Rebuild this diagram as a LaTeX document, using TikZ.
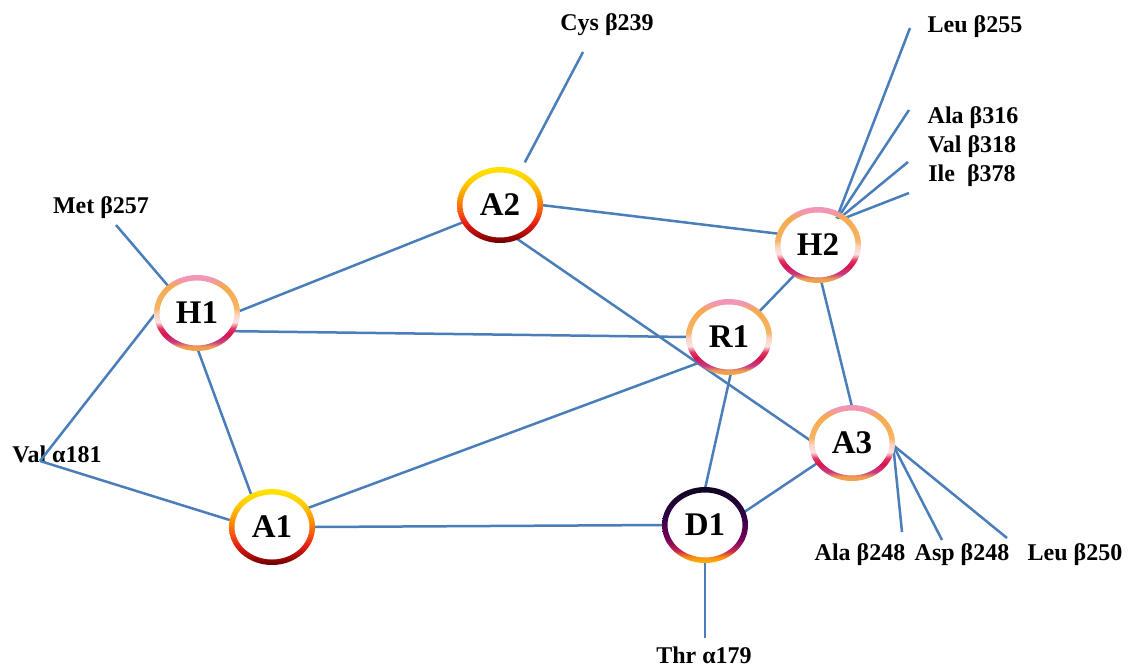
\documentclass[tikz,border=0pt]{standalone}
\usepackage{fontspec}
\setmainfont{Liberation Serif}
\usetikzlibrary{shapes.geometric}
\definecolor{edge}{RGB}{74,126,187}
% A-type ring colours
\definecolor{aA}{RGB}{105,0,0}
\definecolor{aB}{RGB}{170,10,10}
\definecolor{aC}{RGB}{232,30,20}
\definecolor{aD}{RGB}{250,90,15}
\definecolor{aE}{RGB}{255,150,0}
\definecolor{aF}{RGB}{255,205,0}
\definecolor{aG}{RGB}{255,228,0}
% D-type ring colours
\definecolor{dA}{RGB}{255,185,0}
\definecolor{dB}{RGB}{250,140,20}
\definecolor{dC}{RGB}{200,40,80}
\definecolor{dD}{RGB}{120,0,90}
\definecolor{dE}{RGB}{50,0,70}
\definecolor{dF}{RGB}{15,5,35}
% H-type ring colours
\definecolor{hA}{RGB}{242,168,70}
\definecolor{hB}{RGB}{238,155,85}
\definecolor{hC}{RGB}{200,60,130}
\definecolor{hD}{RGB}{215,20,80}
\definecolor{hE}{RGB}{228,50,95}
\definecolor{hF}{RGB}{250,228,225}
\definecolor{hG}{RGB}{250,212,195}
\definecolor{hH}{RGB}{247,180,100}
\definecolor{hI}{RGB}{245,170,80}
\definecolor{hJ}{RGB}{242,150,175}
\definecolor{hK}{RGB}{240,150,192}
\pgfdeclareverticalshading{ringA}{100bp}{color(0bp)=(aA); color(25bp)=(aA); color(31bp)=(aB); color(38bp)=(aC); color(46bp)=(aD); color(55bp)=(aE); color(65bp)=(aF); color(75bp)=(aG); color(100bp)=(aG)}
\pgfdeclareverticalshading{ringD}{100bp}{color(0bp)=(dA); color(25bp)=(dA); color(29bp)=(dB); color(33bp)=(dC); color(40bp)=(dD); color(55bp)=(dE); color(75bp)=(dF); color(100bp)=(dF)}
\pgfdeclareverticalshading{ringH}{100bp}{color(0bp)=(hA); color(25bp)=(hA); color(28bp)=(hB); color(31bp)=(hC); color(36bp)=(hD); color(40bp)=(hE); color(44bp)=(hF); color(49bp)=(hG); color(53bp)=(hH); color(68bp)=(hI); color(72bp)=(hJ); color(75bp)=(hK); color(100bp)=(hK)}
\newcommand\ringat[2]{\shade[shading=#2, even odd rule] (#1.center) ellipse (43pt and 38pt) (#1.center) ellipse (37.5pt and 32.5pt);}
\tikzset{
  res/.style={ellipse, minimum width=82pt, minimum height=72pt, inner sep=0pt, font=\fontsize{33}{36}\selectfont\bfseries},
  lab/.style={font=\fontsize{24}{28}\selectfont\bfseries, inner sep=0pt, anchor=base},
  link/.style={draw=edge, line width=2.5pt},
}
\begin{document}
\begin{tikzpicture}[x=1pt, y=-1pt]
\useasboundingbox (0,0) rectangle (1129,670);
\fill[white] (0,0) rectangle (1129,670);
% residue nodes
\node[res] (H1) at (197,313) {H1};
\node[res] (A2) at (500,205) {A2};
\node[res] (A1) at (272,527) {A1};
\node[res] (D1) at (705,525) {D1};
\node[res] (H2) at (818,245) {H2};
\node[res] (R1) at (729,337) {R1};
\node[res] (A3) at (852,443) {A3};
% labels
\node[lab] (cys) at (607,30) {Cys β239};
\node[lab] (leu255) at (975,32) {Leu β255};
\node[lab] (ala316) at (973,123) {Ala β316};
\node[lab] (val318) at (972,152) {Val β318};
\node[lab] (ile378) at (972,181) {Ile~ β378};
\node[lab] (met) at (101,213) {Met β257};
\node[lab] (val181) at (57,462) {Val α181};
\node[lab] (thr) at (704,663) {Thr α179};
\node[lab] (ala248) at (860,560) {Ala β248};
\node[lab] (asp248) at (962,560) {Asp β248};
\node[lab] (leu250) at (1075,560) {Leu β250};
% free ends
\coordinate (cysE) at (583,52);
\coordinate (leu255E) at (910,28);
\coordinate (ala316E) at (909,110);
\coordinate (val318E) at (908,162);
\coordinate (ile378E) at (909,193);
\coordinate (metE) at (116,225);
\coordinate (valE) at (40,461);
\coordinate (thrE) at (705,638);
\coordinate (ala248E) at (902,532);
\coordinate (asp248E) at (942,540);
\coordinate (leu250E) at (1007,538);
% connectors
\draw[link] (H1.2) -- (A2.205);
\draw[link] (A2.0) -- (H2.164);
\draw[link] (A2.-64) -- (A3.177);
\draw[link] (H1.-27) -- (R1.180);
\draw[link] (H1.-89) -- (A1.123);
\draw[link] (H1.137) -- (metE);
\draw[link] (H1.180) -- (valE);
\draw[link] (valE) -- (A1.171);
\draw[link] (A1.28) -- (R1.221);
\draw[link] (A1.east) -- (D1.west);
\draw[link] (R1.-87) -- (D1.90);
\draw[link] (R1.40) -- (H2.232);
\draw[link] (H2.-85) -- (A3.90);
\draw[link] (D1.18) -- (A3.210);
\draw[link] (D1.south) -- (thrE);
\draw[link, shorten <=12pt] (A2.59) -- (cysE);
\draw[link, shorten <=-5pt] (H2.57) -- (leu255E);
\draw[link, shorten <=-5pt] (H2.54) -- (ala316E);
\draw[link, shorten <=-4pt] (H2.50) -- (val318E);
\draw[link, shorten <=-3pt] (H2.45) -- (ile378E);
\draw[link] (A3.-3) -- (ala248E);
\draw[link] (A3.-3) -- (asp248E);
\draw[link] (A3.-3) -- (leu250E);
% rings
\ringat{H1}{ringH}
\ringat{H2}{ringH}
\ringat{R1}{ringH}
\ringat{A3}{ringH}
\ringat{A1}{ringA}
\ringat{A2}{ringA}
\ringat{D1}{ringD}
\end{tikzpicture}
\end{document}
